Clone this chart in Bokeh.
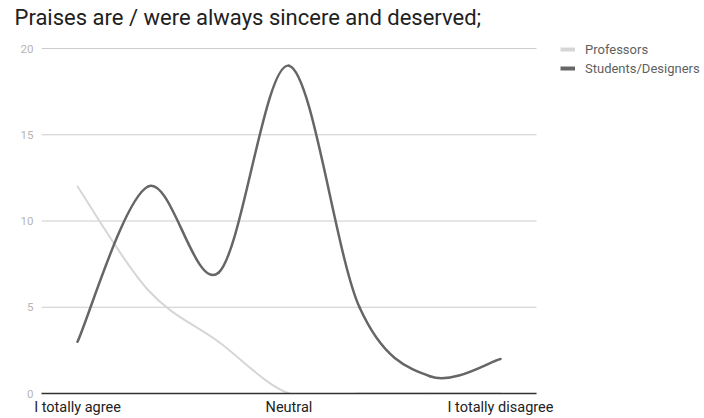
from bokeh.plotting import figure
from bokeh.models import Range1d, FixedTicker, Legend, LegendItem, ColumnDataSource
from bokeh.embed import file_html
from bokeh.resources import INLINE

# ---- data ----
categories = ["I totally agree", "", "", "Neutral", "", "", "I totally disagree"]
professors = [12, 6, 3, 0, 0, 0, 0]
students = [3, 12, 7, 19, 5, 1, 2]
y_ticks = [0, 5, 10, 15, 20]
series_names = ["Professors", "Students/Designers"]
series_colors = ["#d6d6d6", "#666666"]


def smooth_source(vals):
    """Catmull-Rom style cubic bezier segments through the data points."""
    n = len(vals)
    xs = list(range(n))

    def pt(i):
        i = max(0, min(n - 1, i))
        return xs[i], vals[i]

    d = {k: [] for k in ("x0", "y0", "x1", "y1", "cx0", "cy0", "cx1", "cy1")}
    for i in range(n - 1):
        xa, ya = pt(i)
        xb, yb = pt(i + 1)
        xm, ym = pt(i - 1)
        xp, yp = pt(i + 2)
        d["x0"].append(xa); d["y0"].append(ya)
        d["x1"].append(xb); d["y1"].append(yb)
        d["cx0"].append(xa + (xb - xm) / 6.0); d["cy0"].append(ya + (yb - ym) / 6.0)
        d["cx1"].append(xb - (xp - xa) / 6.0); d["cy1"].append(yb - (yp - ya) / 6.0)
    return ColumnDataSource(d)


# geometry (page pixels): plot area x 41..536, y 48..393
W, H = 704, 418
left, right_area, top20, bottom = 41, 536, 48, 393
frame_top = 29
n = len(categories)
pad = 0.511
px_per_x = (right_area - left) / (n - 1 + 2 * pad)
x_end = -pad + (W - left) / px_per_x
px_per_y = (bottom - top20) / 20.0
y_end = 20 + (top20 - frame_top) / px_per_y

p = figure(width=W, height=H,
           x_range=Range1d(-pad, x_end),
           y_range=Range1d(0, y_end),
           output_backend="svg", toolbar_location=None,
           min_border_left=left, min_border_right=0,
           min_border_top=frame_top, min_border_bottom=H - bottom)
p.outline_line_color = None
p.background_fill_color = "white"
p.border_fill_color = "white"

# title
p.title.text = "Praises are / were always sincere and deserved;"
p.title.text_font = "Roboto"
p.title.text_font_size = "22px"
p.title.text_font_style = "normal"
p.title.text_color = "#212121"
p.title.align = "left"
p.title.offset = 14 - left
p.title.standoff = 0

# horizontal grid lines, limited to the plotted area
p.xgrid.visible = False
p.ygrid.visible = False
p.segment(x0=[-pad] * len(y_ticks), y0=y_ticks,
          x1=[n - 1 + pad] * len(y_ticks), y1=y_ticks,
          line_color="#cccccc", line_width=1)

# y axis
p.yaxis.ticker = FixedTicker(ticks=y_ticks)
p.yaxis.axis_line_color = None
p.yaxis.major_tick_line_color = None
p.yaxis.minor_tick_line_color = None
p.yaxis.major_tick_out = 0
p.yaxis.major_tick_in = 0
p.yaxis.major_label_text_font = "Roboto"
p.yaxis.major_label_text_font_size = "11.5px"
p.yaxis.major_label_text_color = "#b5b5b5"
p.yaxis.major_label_standoff = 8

# x axis
label_idx = [i for i, c in enumerate(categories) if c]
p.xaxis.ticker = FixedTicker(ticks=label_idx)
p.xaxis.major_label_overrides = {i: categories[i] for i in label_idx}
p.xaxis.bounds = (-pad, n - 1 + pad)
p.xaxis.axis_line_color = "#333333"
p.xaxis.axis_line_width = 1.5
p.xaxis.major_tick_line_color = None
p.xaxis.minor_tick_line_color = None
p.xaxis.major_tick_out = 0
p.xaxis.major_tick_in = 0
p.xaxis.major_label_text_font = "Roboto"
p.xaxis.major_label_text_font_size = "14.5px"
p.xaxis.major_label_text_color = "#222222"
p.xaxis.major_label_standoff = 5

# lines
for vals, color, w in ((professors, series_colors[0], 2), (students, series_colors[1], 2.5)):
    p.bezier(x0="x0", y0="y0", x1="x1", y1="y1", cx0="cx0", cy0="cy0", cx1="cx1", cy1="cy1",
             source=smooth_source(vals), line_color=color, line_width=w, line_cap="round")

# legend (thick bar keys), to the right of the plotted area
nan = float("nan")
items = []
for name, color in zip(series_names, series_colors):
    r = p.line(x=[nan], y=[nan], line_color=color, line_width=4)
    items.append(LegendItem(label=name, renderers=[r]))
leg_h = 16 + 3 + 16
legend = Legend(items=items, location=(560 - left, bottom - 41 - leg_h))
legend.border_line_color = None
legend.background_fill_alpha = 0
legend.padding = 0
legend.margin = 0
legend.spacing = 3
legend.glyph_width = 15
legend.glyph_height = 16
legend.label_height = 16
legend.label_standoff = 10
legend.label_text_font = "Roboto"
legend.label_text_font_size = "13px"
legend.label_text_color = "#5f5f5f"
p.add_layout(legend)

open("out.html", "w").write(file_html(p, INLINE))
